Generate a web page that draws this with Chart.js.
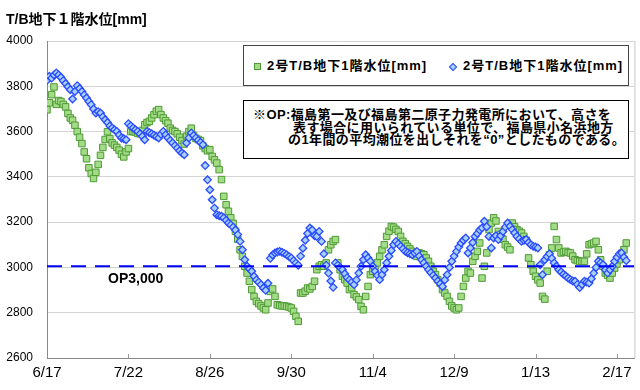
<!DOCTYPE html>
<html>
<head>
<meta charset="utf-8">
<script src="https://cdn.jsdelivr.net/npm/chart.js@4"></script>
<style>
  body { margin: 0; background: #fff; }
  #wrap { position: relative; width: 640px; height: 390px; font-family: "Liberation Sans", "Noto Sans CJK JP", sans-serif; }
  #title { position: absolute; left: 6px; top: 10px; font-size: 14px; font-weight: bold; line-height: 18px; color: #000; }
  #legend { position: absolute; left: 243px; top: 45px; width: 384px; height: 39px; border: 1px solid #444; background: #fff; }
  #legend .item { position: absolute; top: 12px; font-size: 13px; font-weight: bold; line-height: 16px; letter-spacing: 1px; white-space: nowrap; }
  #legend .sq { position: absolute; width: 5px; height: 5px; background: #a3dc86; border: 1px solid #4f9a36; }
  #legend .dm { position: absolute; width: 4px; height: 4px; background: #a8d0ff; border: 1px solid #2a4bff; transform: rotate(45deg); }
  #note { position: absolute; left: 243px; top: 100px; width: 384px; height: 57px; border: 1px solid #000; background: #fff; }
  #note div { position: absolute; font-size: 13px; font-weight: bold; line-height: 13px; letter-spacing: 0.4px; white-space: nowrap; }
</style>
</head>
<body>
<div id="wrap">
  <canvas id="c" width="640" height="390"></canvas>
  <div id="title">T/B地下１階水位[mm]</div>
  <div id="legend">
    <span class="sq" style="left:10px; top:17px;"></span>
    <span class="item" style="left:23px;">2号T/B地下1階水位[mm]</span>
    <span class="dm" style="left:206px; top:18px;"></span>
    <span class="item" style="left:219px;">2号T/B地下1階水位[mm]</span>
  </div>
  <div id="note">
    <div style="left:9px; top:7px;">※OP:福島第一及び福島第二原子力発電所において、高さを</div>
    <div style="left:49px; top:20px;">表す場合に用いられている単位で、福島県小名浜地方</div>
    <div style="left:44px; top:32px;">の1年間の平均潮位を出しそれを“0”としたものである。</div>
  </div>
</div>
<script>
"use strict"

// x axis: days counted from 6/17
var tickLabels = ['6/17', '7/22', '8/26', '9/30', '11/4', '12/9', '1/13', '2/17'];
var tickStep = 35;
var yTicks = [2600, 2800, 3000, 3200, 3400, 3600, 3800, 4000];
var opLevel = 3005;

// green squares, one value per day from 6/17
var levelGreen = [
    3696, 3727, 3763, 3797, 3720, 3737, 3733, 3720, 3709, 3680,
    3660, 3650, 3628, 3600, 3575, 3547, 3510, 3480, 3440, 3415,
    3393, 3420, 3455, 3495, 3530, 3565, 3599, 3569, 3550, 3540,
    3530, 3518, 3500, 3488, 3510, 3525, 3600, 3600, 3598, 3592,
    3590, 3605, 3630, 3640, 3645, 3660, 3675, 3690, 3697, 3675,
    3660, 3648, 3637, 3615, 3605, 3600, 3590, 3575, 3560, 3545,
    3580, 3600, 3615, 3583, 3570, 3565, 3560, 3537, 3525, 3515,
    3520, 3490, 3475, 3461, 3432, 3388, 3314, 3277, 3248, 3219,
    3195, 3160, 3125, 3078, 3049, 3005, 2975, 2939, 2902, 2872,
    2850, 2840, 2830, 2821, 2813, 2843, 2894, 2905, 2872, 2835,
    2832, 2830, 2830, 2828, 2825, 2821, 2806, 2784, 2762, 2887,
    2887, 2895, 2909, 2905, 2916, 2939, 2990, 3005, 3012, 3005,
    3020, 3078, 3100, 3115, 3123, 3020, 2990, 2961, 2946, 2931,
    2902, 2910, 2880, 2870, 2858, 2828, 2813, 2872, 2916, 2968,
    2983, 3005, 3020, 3049, 3078, 3100, 3137, 3160, 3181, 3178,
    3168, 3159, 3137, 3115, 3105, 3093, 3082, 3071, 3060, 3049,
    3064, 3060, 3056, 3042, 3027, 3005, 2983, 2968, 2946, 2931,
    2902, 2887, 2872, 2850, 2830, 2821, 2813, 2821, 2872, 2916,
    2953, 2983, 2975, 3027, 3049, 3071, 3108, 2953, 3005, 3064,
    3167, 3196, 3219, 3205, 3159, 3145, 3125, 3100, 3090, 3078,
    3196, 3180, 3167, 3160, 3152, 3137, 3120, 3042, 3012, 2983,
    2961, 2945, 2931, 2872, 2860, 2983, 3056, 3086, 3181, 3123,
    3086, 3064, 3068, 3071, 3066, 3064, 3050, 3034, 3030, 3027,
    3027, 3027, 3060, 3100, 3104, 3108, 3115, 3078, 3034, 3005,
    2975, 2965, 2953, 2975, 2997, 3015, 3034, 3055, 3078, 3108
];

// blue diamonds, one value per day from 6/17
var levelBlue = [
    3826, 3844, 3836, 3850, 3859, 3850, 3840, 3825, 3812, 3798,
    3785, 3744, 3777, 3803, 3790, 3777, 3762, 3748, 3733, 3719,
    3700, 3682, 3688, 3682, 3665, 3652, 3640, 3625, 3616, 3608,
    3601, 3585, 3572, 3568, 3564, 3635, 3625, 3616, 3608, 3601,
    3590, 3579, 3564, 3601, 3595, 3590, 3584, 3578, 3572, 3588,
    3601, 3586, 3572, 3561, 3550, 3538, 3527, 3515, 3505, 3498,
    3550, 3572, 3594, 3583, 3572, 3562, 3552, 3542, 3450, 3387,
    3343, 3299, 3262, 3233, 3228, 3226, 3219, 3208, 3196, 3188,
    3178, 3165, 3145, 3115, 3078, 3034, 3005, 2994, 2983, 2961,
    2945, 2935, 2924, 2909, 2899, 2930, 3040, 3055, 3064, 3068,
    3071, 3067, 3062, 3056, 3048, 3042, 3030, 3020, 3010, 3050,
    3085, 3120, 3150, 3174, 3165, 3140, 3137, 3159, 3115, 3060,
    3010, 2975, 2940, 2912, 3020, 3010, 3000, 2990, 2972, 2955,
    2945, 2935, 2924, 2945, 2975, 3005, 3034, 3056, 3042, 3027,
    3005, 2983, 2965, 2946, 2968, 2990, 3020, 3049, 3075, 3100,
    3115, 3104, 3093, 3082, 3071, 3065, 3060, 3056, 3064, 3071,
    3050, 3034, 3020, 3005, 2990, 2977, 2965, 2953, 2940, 2928,
    2916, 2945, 2968, 3000, 3027, 3050, 3071, 3090, 3108, 3120,
    3130, 3064, 3086, 3110, 3137, 3150, 3165, 3174, 3204, 3180,
    3137, 3086, 3130, 3140, 3123, 3140, 3159, 3178, 3196, 3182,
    3167, 3152, 3137, 3126, 3115, 3120, 3123, 3110, 3100, 3093,
    3090, 3086, 3012, 2968, 3034, 3048, 3060, 3040, 3020, 3005,
    2990, 2980, 2970, 2962, 2953, 2946, 2940, 2939, 2925, 2911,
    2925, 2939, 2935, 2931, 2950, 2975, 3000, 3027, 3020, 3012,
    2990, 2975, 2990, 3005, 3027, 3045, 3060, 3064, 3045, 3030
];

var xMax = 252.5;

var toPoints = function (arr) {
    var pts = [];
    for (var i = 0; i < arr.length; i++) {
        pts.push({ x: i, y: arr[i] });
    }
    return pts;
}

// tick marks inside, right border, OP label
var extras = {
    id: 'extras',
    afterDraw: function (chart) {
        var ctx = chart.ctx;
        var area = chart.chartArea;
        var xs = chart.scales.x;
        var ys = chart.scales.y;
        ctx.save();
        ctx.strokeStyle = '#c8c8c8';
        ctx.lineWidth = 1;
        ctx.beginPath();
        ctx.moveTo(area.right + 0.5, area.top);
        ctx.lineTo(area.right + 0.5, area.bottom);
        ctx.stroke();
        ctx.strokeStyle = '#999';
        ctx.beginPath();
        for (var i = 1; i < tickLabels.length; i++) {
            var px = Math.round(xs.getPixelForValue(i * tickStep)) + 0.5;
            ctx.moveTo(px, area.bottom);
            ctx.lineTo(px, area.bottom - 4);
        }
        ctx.stroke();
        ctx.fillStyle = '#000';
        ctx.font = 'bold 14px "Liberation Sans", sans-serif';
        ctx.textBaseline = 'middle';
        ctx.fillText('OP3,000', 108, ys.getPixelForValue(opLevel) + 13);
        ctx.restore();
    }
};

var ctx = document.getElementById('c').getContext('2d');
var myChart = new Chart(ctx, {
    type: 'scatter',
    data: {
        datasets: [
            {
                label: 'OP',
                type: 'line',
                data: [{ x: 0, y: opLevel }, { x: xMax, y: opLevel }],
                borderColor: '#0000ff',
                borderWidth: 2,
                borderDash: [15, 9],
                pointRadius: 0,
                fill: false
            },
            {
                label: '2号T/B地下1階水位[mm]',
                data: toPoints(levelBlue),
                pointStyle: 'rectRot',
                pointRadius: 3.8,
                borderWidth: 1.3,
                borderColor: '#2a4bff',
                backgroundColor: '#a8d0ff'
            },
            {
                label: '2号T/B地下1階水位[mm]',
                data: toPoints(levelGreen),
                pointStyle: 'rect',
                pointRadius: 4.6,
                borderWidth: 1,
                borderColor: '#4f9a36',
                backgroundColor: '#a3dc86'
            }
        ]
    },
    options: {
        responsive: false,
        animation: false,
        layout: { padding: { top: 41, right: 3, left: 0, bottom: 0 } },
        plugins: {
            legend: { display: false },
            title: { display: false },
            tooltip: { enabled: false }
        },
        scales: {
            x: {
                type: 'linear',
                min: 0,
                max: xMax,
                afterBuildTicks: function (scale) {
                    scale.ticks = tickLabels.map(function (t, i) { return { value: i * tickStep }; });
                },
                afterFit: function (scale) { scale.height = 32; },
                grid: { display: false, drawTicks: false },
                border: { display: true, color: '#888', width: 1 },
                ticks: {
                    autoSkip: false,
                    maxRotation: 0,
                    padding: 6,
                    color: '#000',
                    font: { size: 15, family: '"Liberation Sans", sans-serif' },
                    callback: function (value) { return tickLabels[Math.round(value / tickStep)]; }
                }
            },
            y: {
                min: yTicks[0],
                max: yTicks[yTicks.length - 1],
                afterBuildTicks: function (scale) {
                    scale.ticks = yTicks.map(function (v) { return { value: v }; });
                },
                afterFit: function (scale) { scale.width = 47; },
                grid: { color: '#d4d4d4', drawTicks: false },
                border: { display: true, color: '#888', width: 1 },
                ticks: {
                    padding: 14,
                    color: '#000',
                    font: { size: 12, family: '"Liberation Sans", sans-serif' },
                    callback: function (value) { return String(value); }
                }
            }
        }
    },
    plugins: [extras]
});
</script>
</body>
</html>
